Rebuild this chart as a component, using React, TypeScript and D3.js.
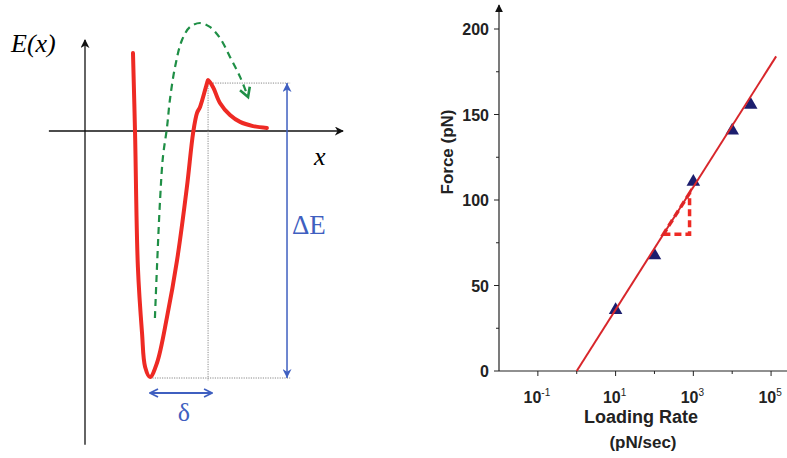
import React from "react";
import * as d3 from "d3";

// ---- left panel: energy landscape (arbitrary units) ----
const energyX = [1.86, 1.94, 2.05, 2.21, 2.33, 2.52, 2.79, 3.18, 3.57, 3.95, 4.19, 4.34, 4.46, 4.73, 4.77, 4.96, 5.23, 5.62, 6.01, 6.51, 7.05];
const energyE = [3.17, -0.08, -5.53, -8.21, -9.59, -10, -9.43, -7.56, -5.24, -2.28, -0.08, 0.73, 0.98, 1.95, 2.07, 1.79, 1.14, 0.65, 0.37, 0.2, 0.12];

const jumpX = [2.71, 2.79, 2.91, 3.02, 3.18, 3.29, 3.49, 3.76, 4.07, 4.46, 4.84, 5.23, 5.62, 6.01, 6.32];
const jumpE = [-7.6, -5.53, -2.8, -1.06, 0.16, 1.26, 2.6, 3.7, 4.23, 4.39, 4.23, 3.78, 3.01, 2.2, 1.38];

// ---- right panel: dynamic force spectroscopy ----
const rates = [10, 100, 1000, 10000, 30000];
const forces = [35, 67, 110, 140, 155];
const fitRates = [1, 135000];
const fitForces = [0, 184];
const slopeRates = [170, 800, 800];
const slopeForces = [80, 80, 104];
const yTicks = [0, 50, 100, 150, 200];
const yMinor = [25, 75, 125, 175];
const xTickExp = [-1, 1, 3, 5];
const xMinorExp = [0, 2, 4];

const RED = "#ee2a24";
const BLUE = "#3f5fc0";
const GREEN = "#1f8f46";

export default function App() {
  // left scales
  const ex = d3.scaleLinear().domain([0, 10]).range([85, 343]);
  const ey = d3.scaleLinear().domain([-10, 0]).range([377, 131]);

  const pts: [number, number][] = energyX.map((x, i) => [ex(x), ey(energyE[i])]);
  const energyPath = d3.line().curve(d3.curveCatmullRom.alpha(0.5))(pts) || "";
  const jPts: [number, number][] = jumpX.map((x, i) => [ex(x), ey(jumpE[i])]);
  const jumpPath = d3.line().curve(d3.curveCatmullRom.alpha(0.5))(jPts) || "";

  const iMax = energyE.indexOf(d3.max(energyE.slice(5)) as number);
  const iMin = energyE.indexOf(d3.min(energyE) as number);
  const peakX = ex(energyX[iMax]);
  const peakY = ey(energyE[iMax]) + 3;
  const minX = ex(energyX[iMin]);
  const minY = ey(energyE[iMin]) + 1;
  const dEx = ex(7.83);
  const dotEnd = ex(7.95);
  const deltaY = ey(-10.65);

  // right scales
  const x = d3.scaleLog().domain([0.01, 10 ** 5.41]).range([499, 787]);
  const y = d3.scaleLinear().domain([0, 200]).range([371, 29]);
  const fitPath = d3.line()(fitRates.map((r, i) => [x(r), y(fitForces[i])] as [number, number])) || "";
  const triPath = d3.line()(slopeRates.map((r, i) => [x(r), y(slopeForces[i])] as [number, number])) + "Z";
  const tri = d3.symbol(d3.symbolTriangle, 80)() || "";

  const sans = "'Liberation Sans', Arial, sans-serif";
  const serif = "'Liberation Serif', 'Times New Roman', serif";

  return (
    <svg width={787} height={458} style={{ position: "absolute", left: 0, top: 0, background: "#fff" }}>
      <defs>
        <marker id="blk" viewBox="0 0 10 10" refX="9" refY="5" markerWidth="9" markerHeight="9" markerUnits="userSpaceOnUse" orient="auto">
          <path d="M0,0 L10,5 L0,10 L3,5 Z" fill="#111" />
        </marker>
        <marker id="blu" viewBox="0 0 10 10" refX="10" refY="5" markerWidth="11" markerHeight="9" markerUnits="userSpaceOnUse" orient="auto-start-reverse">
          <path d="M0,0 L10,5 L0,10 L3,5 Z" fill={BLUE} />
        </marker>
        <marker id="chev" viewBox="0 0 10 10" refX="9" refY="5" markerWidth="10" markerHeight="10" markerUnits="userSpaceOnUse" orient="auto-start-reverse">
          <path d="M1,1 L9,5 L1,9" fill="none" stroke={BLUE} strokeWidth={1.8} />
        </marker>
        <marker id="grn" viewBox="0 0 10 10" refX="8" refY="5" markerWidth="13" markerHeight="13" markerUnits="userSpaceOnUse" orient="auto">
          <path d="M1,1 L8,5 L1,9" fill="none" stroke={GREEN} strokeWidth={2} />
        </marker>
        <marker id="rax" viewBox="0 0 10 10" refX="9" refY="5" markerWidth="8" markerHeight="8" markerUnits="userSpaceOnUse" orient="auto">
          <path d="M0,0 L10,5 L0,10 Z" fill="#111" />
        </marker>
      </defs>

      {/* left panel axes */}
      <line x1={ex(0)} y1={ey(-12.75)} x2={ex(0)} y2={ey(3.7)} stroke="#111" strokeWidth={1.3} markerEnd="url(#blk)" />
      <line x1={ex(-1.4)} y1={ey(0)} x2={ex(10)} y2={ey(0)} stroke="#111" strokeWidth={1.3} markerEnd="url(#blk)" />
      <text x={11} y={52} fontFamily={serif} fontStyle="italic" fontSize={26}>E(x)</text>
      <text x={314} y={165} fontFamily={serif} fontStyle="italic" fontSize={26}>x</text>

      {/* dotted guides */}
      <g stroke="#888" strokeWidth={1} strokeDasharray="1.2,1.2">
        <line x1={peakX} y1={peakY} x2={dotEnd} y2={peakY} />
        <line x1={peakX} y1={peakY} x2={peakX} y2={minY + 3} />
        <line x1={minX} y1={minY} x2={dotEnd} y2={minY} />
      </g>

      <path d={energyPath} fill="none" stroke={RED} strokeWidth={4} strokeLinecap="round" strokeLinejoin="round" />
      <path d={jumpPath} fill="none" stroke={GREEN} strokeWidth={2.2} strokeDasharray="7,5" markerEnd="url(#grn)" />

      {/* ΔE and δ arrows */}
      <line x1={dEx} y1={peakY} x2={dEx} y2={minY} stroke={BLUE} strokeWidth={1.5} markerStart="url(#blu)" markerEnd="url(#blu)" />
      <text x={292} y={234} fontFamily={serif} fontSize={27} fill={BLUE}>ΔE</text>
      <line x1={minX} y1={deltaY} x2={peakX + 4} y2={deltaY} stroke={BLUE} strokeWidth={1.8} markerStart="url(#chev)" markerEnd="url(#chev)" />
      <text x={184} y={421} fontFamily={serif} fontSize={26} fill={BLUE} textAnchor="middle">δ</text>

      {/* right panel */}
      <g fontFamily={sans} fill="#222">
        <line x1={499} y1={y(0)} x2={499} y2={5} stroke="#222" strokeWidth={1.2} markerEnd="url(#rax)" />
        <line x1={499} y1={y(0)} x2={787} y2={y(0)} stroke="#222" strokeWidth={1.2} />
        {yTicks.map(t => (
          <g key={t}>
            <line x1={494} x2={499} y1={y(t)} y2={y(t)} stroke="#222" />
            <text x={489} y={y(t) + 6} textAnchor="end" fontSize={16} fontWeight="bold">{t}</text>
          </g>
        ))}
        {yMinor.map(t => (
          <line key={t} x1={496} x2={499} y1={y(t)} y2={y(t)} stroke="#222" />
        ))}
        {xTickExp.map(e => (
          <g key={e}>
            <line x1={x(10 ** e)} x2={x(10 ** e)} y1={y(0)} y2={y(0) + 5} stroke="#222" />
            <text x={x(10 ** e) - 1} y={403} textAnchor="middle" fontSize={16} fontWeight="bold">
              10<tspan dy={-7} fontSize={10} fontWeight="normal">{e}</tspan>
            </text>
          </g>
        ))}
        {xMinorExp.map(e => (
          <line key={e} x1={x(10 ** e)} x2={x(10 ** e)} y1={y(0)} y2={y(0) + 3} stroke="#222" />
        ))}
        <text transform={`translate(453,${(y(0) + y(200)) / 2 - 48}) rotate(-90)`} textAnchor="middle" fontSize={17} fontWeight="bold">Force (pN)</text>
        <text x={641} y={423} textAnchor="middle" fontSize={18} fontWeight="bold">Loading Rate</text>
        <text x={643} y={448} textAnchor="middle" fontSize={17} fontWeight="bold">(pN/sec)</text>
      </g>

      <path d={triPath} fill="none" stroke={RED} strokeWidth={3.5} strokeDasharray="7,4" />
      {rates.map((r, i) => (
        <path key={r} d={tri} transform={`translate(${x(r)},${y(forces[i]) - 1})`} fill="#1c1e6e" />
      ))}
      <path d={fitPath} fill="none" stroke="#d8262b" strokeWidth={2} />
    </svg>
  );
}
